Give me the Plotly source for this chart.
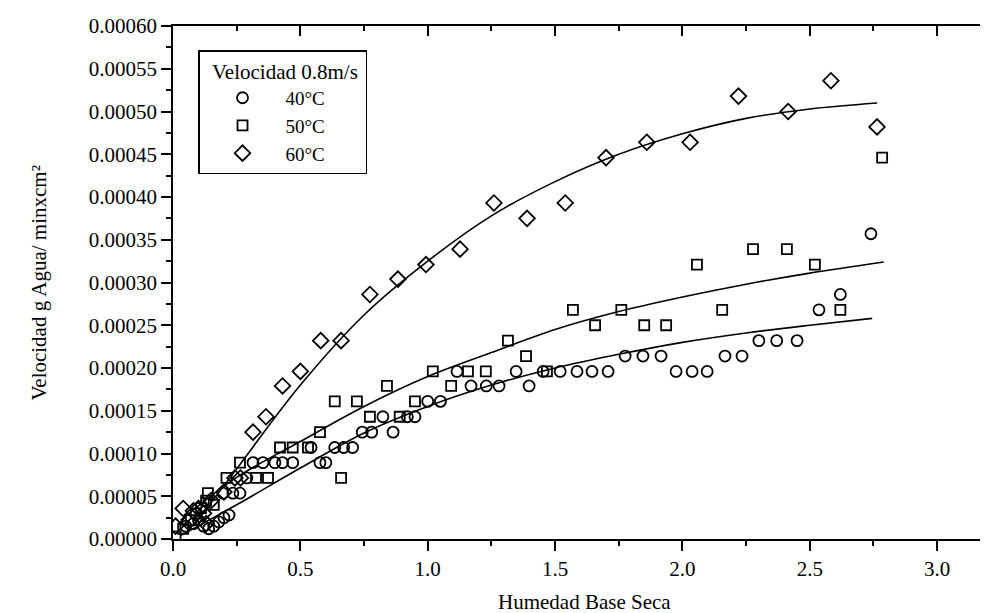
import plotly.graph_objects as go

# ---------------- data ----------------
# 40 °C  (open circles)
x40 = [0.05, 0.08, 0.10, 0.12, 0.14, 0.16, 0.18, 0.20, 0.22,
       0.196, 0.235, 0.263, 0.29,
       0.314, 0.353, 0.40, 0.43, 0.47, 0.577, 0.60,
       0.542, 0.635, 0.67, 0.705,
       0.743, 0.78, 0.864,
       0.824, 0.92, 0.95,
       1.00, 1.05,
       1.17, 1.23, 1.28, 1.398,
       1.115, 1.347, 1.453, 1.52, 1.586, 1.645, 1.708, 1.975, 2.038, 2.097,
       1.775, 1.845, 1.916, 2.167, 2.234,
       2.30, 2.37, 2.45,
       2.536, 2.62, 2.74]
y40 = [0.000015, 0.000018, 0.000022, 0.000015, 0.000012, 0.000015, 0.000020, 0.000025, 0.000028,
       0.0000536, 0.0000536, 0.0000536, 0.0000714,
       0.0000893, 0.0000893, 0.0000893, 0.0000893, 0.0000893, 0.0000893, 0.0000893,
       0.000107, 0.000107, 0.000107, 0.000107,
       0.000125, 0.000125, 0.000125,
       0.000143, 0.000143, 0.000143,
       0.000161, 0.000161,
       0.000179, 0.000179, 0.000179, 0.000179,
       0.000196, 0.000196, 0.000196, 0.000196, 0.000196, 0.000196, 0.000196, 0.000196, 0.000196, 0.000196,
       0.000214, 0.000214, 0.000214, 0.000214, 0.000214,
       0.000232, 0.000232, 0.000232,
       0.000268, 0.000286, 0.000357]

# 50 °C  (open squares)
x50 = [0.01, 0.04, 0.07, 0.09, 0.11, 0.13, 0.137, 0.16, 0.21,
       0.263, 0.326, 0.373, 0.42, 0.47, 0.53, 0.577, 0.635, 0.66, 0.722,
       0.773, 0.84, 0.89, 0.95, 1.02, 1.092, 1.158, 1.228, 1.315, 1.386,
       1.468, 1.57, 1.657, 1.76, 1.85, 1.936, 2.057, 2.156, 2.277, 2.41,
       2.52, 2.62, 2.784]
y50 = [0.000003, 0.000012, 0.000022, 0.000030, 0.000036, 0.000045, 0.0000536, 0.000040, 0.0000714,
       0.0000893, 0.0000714, 0.0000714, 0.000107, 0.000107, 0.000107, 0.000125, 0.000161, 0.0000714, 0.000161,
       0.000143, 0.000179, 0.000143, 0.000161, 0.000196, 0.000179, 0.000196, 0.000196, 0.000232, 0.000214,
       0.000196, 0.000268, 0.000250, 0.000268, 0.000250, 0.000250, 0.000321, 0.000268, 0.000339, 0.000339,
       0.000321, 0.000268, 0.000446]

# 60 °C  (open diamonds)
x60 = [0.01, 0.04, 0.06, 0.08, 0.10, 0.12, 0.13, 0.15, 0.20, 0.243, 0.265,
       0.314, 0.365, 0.43, 0.50, 0.58, 0.66, 0.773, 0.883, 0.993, 1.127,
       1.26, 1.39, 1.54, 1.70, 1.86, 2.03, 2.22, 2.415, 2.583, 2.764]
y60 = [0.000015, 0.0000357, 0.000020, 0.000033, 0.0000357, 0.000030, 0.000018, 0.000045, 0.000055, 0.0000714, 0.0000714,
       0.000125, 0.000143, 0.000179, 0.000196, 0.000232, 0.000232, 0.000286, 0.000304, 0.000321, 0.000339,
       0.000393, 0.000375, 0.000393, 0.000446, 0.000464, 0.000464, 0.000518, 0.000500, 0.000536, 0.000482]

# fitted curves
fit40_x = [0.03, 0.25, 0.5, 0.75, 1.0, 1.25, 1.5, 1.75, 2.0, 2.25, 2.5, 2.745]
fit40_y = [0.000004, 0.000040, 0.000083, 0.000124, 0.000155, 0.000180, 0.000200, 0.000216, 0.000230, 0.000241, 0.000250, 0.000258]
fit50_x = [0.03, 0.25, 0.5, 0.75, 1.0, 1.25, 1.5, 1.75, 2.0, 2.25, 2.5, 2.79]
fit50_y = [0.000022, 0.000072, 0.000114, 0.000155, 0.000190, 0.000218, 0.000245, 0.000266, 0.000283, 0.000298, 0.000311, 0.000324]
fit60_x = [0.08, 0.25, 0.5, 0.75, 1.0, 1.25, 1.5, 1.75, 2.0, 2.25, 2.5, 2.764]
fit60_y = [0.000015, 0.000082, 0.000180, 0.000262, 0.000325, 0.000378, 0.000418, 0.000450, 0.000474, 0.000492, 0.000503, 0.000510]

series_names = ["40°C", "50°C", "60°C"]
legend_title = "\u00a0\u00a0Velocidad 0.8m/s\u00a0"
x_title = "Humedad Base Seca"
y_title = "Velocidad g Agua/ minxcm²"

# ---------------- figure ----------------
FONT = "Liberation Serif, Times New Roman, serif"
BLACK = "black"

fig = go.Figure()

for xs, ys in [(fit40_x, fit40_y), (fit50_x, fit50_y), (fit60_x, fit60_y)]:
    fig.add_trace(go.Scatter(x=xs, y=ys, mode="lines", line=dict(color=BLACK, width=1.6, shape="spline"),
                             showlegend=False, hoverinfo="skip"))

symbols = ["circle-open", "square-open", "diamond-open"]
sizes = [11, 10, 12]
for (xs, ys), name, sym, sz in zip([(x40, y40), (x50, y50), (x60, y60)], series_names, symbols, sizes):
    fig.add_trace(go.Scatter(x=xs, y=ys, mode="markers", name=name,
                             marker=dict(symbol=sym, size=sz, color=BLACK, line=dict(width=1.8, color=BLACK))))

# dummy trace so the mirrored (top / right) axes are drawn
fig.add_trace(go.Scatter(x=[None], y=[None], xaxis="x2", yaxis="y2", showlegend=False, hoverinfo="skip"))

XR = [0, 3.231]
YR = [0, 0.0006]

fig.update_layout(
    width=988, height=613,
    margin=dict(l=165, r=0, t=18, b=82),
    paper_bgcolor="white", plot_bgcolor="white",
    font=dict(family=FONT, size=21, color=BLACK),
    showlegend=True,
    legend=dict(x=0.0304, y=0.953, xanchor="left", yanchor="top",
                bordercolor=BLACK, borderwidth=1.5, bgcolor="white",
                font=dict(family=FONT, size=19, color=BLACK),
                title=dict(text=legend_title, font=dict(family=FONT, size=21, color=BLACK)),
                itemwidth=76, tracegroupgap=0),
    xaxis=dict(range=XR, showgrid=False, zeroline=False, showline=True, linecolor=BLACK, linewidth=1.5,
               ticks="outside", ticklen=10, tickwidth=1.5, tickcolor=BLACK,
               tick0=0, dtick=0.5, tickformat=".1f",
               tickfont=dict(family=FONT, size=21, color=BLACK),
               minor=dict(dtick=0.25, ticks="outside", ticklen=5, tickwidth=1.5, tickcolor=BLACK)),
    yaxis=dict(range=YR, showgrid=False, zeroline=False, showline=True, linecolor=BLACK, linewidth=1.5,
               ticks="outside", ticklen=10, tickwidth=1.5, tickcolor=BLACK,
               tick0=0, dtick=0.00005, tickformat=".5f",
               tickfont=dict(family=FONT, size=21, color=BLACK),
               minor=dict(dtick=0.000025, ticks="outside", ticklen=5, tickwidth=1.5, tickcolor=BLACK)),
    xaxis2=dict(range=XR, overlaying="x", side="top", anchor="y", showgrid=False, zeroline=False,
                showline=True, linecolor=BLACK, linewidth=1.5, showticklabels=False,
                ticks="inside", ticklen=10, tickwidth=1.5, tickcolor=BLACK, tick0=0, dtick=0.5,
                minor=dict(dtick=0.25, ticks="inside", ticklen=5, tickwidth=1.5, tickcolor=BLACK)),
    yaxis2=dict(range=YR, overlaying="y", side="right", anchor="x", showgrid=False, zeroline=False,
                showline=False, showticklabels=False,
                ticks="inside", ticklen=10, tickwidth=1.5, tickcolor=BLACK, tick0=0, dtick=0.00005,
                minor=dict(dtick=0.000025, ticks="inside", ticklen=5, tickwidth=1.5, tickcolor=BLACK)),
    annotations=[
        dict(text=x_title, xref="paper", yref="paper", x=0.5, y=-0.123, xanchor="center", yanchor="middle",
             showarrow=False, font=dict(family=FONT, size=21, color=BLACK)),
        dict(text=y_title, xref="paper", yref="paper", x=-0.164, y=0.5, xanchor="center", yanchor="middle",
             textangle=-90, showarrow=False, font=dict(family=FONT, size=21, color=BLACK)),
    ],
)

fig.write_html("out.html")
